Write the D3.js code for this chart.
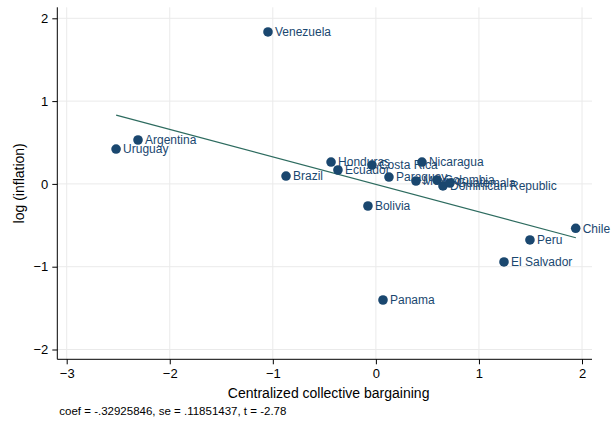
<!DOCTYPE html>
<html><head><meta charset="utf-8">
<script src="https://cdn.jsdelivr.net/npm/d3@7/dist/d3.min.js"></script>
<style>body{margin:0;background:#fff}svg{display:block}text{font-family:"Liberation Sans",Arial,sans-serif}</style>
</head><body><svg id="c" width="612" height="421"></svg>
<script>
const countries = ["Venezuela","Argentina","Uruguay","Brazil","Honduras","Ecuador","Costa Rica","Paraguay","Nicaragua","Mexico","Colombia","Dominican Republic","Guatemala","Bolivia","Chile","Peru","El Salvador","Panama"];
const bargaining = [-1.047,-2.308,-2.521,-0.872,-0.435,-0.368,-0.038,0.127,0.447,0.389,0.593,0.651,0.719,-0.077,1.939,1.495,1.243,0.069];
const inflation = [1.835,0.530,0.421,0.095,0.264,0.168,0.228,0.083,0.264,0.035,0.047,-0.025,0.011,-0.267,-0.536,-0.677,-0.943,-1.402];
const fitX = [-2.52, 1.94];
const fitY = [0.83, -0.65];
const xTicks = [-3,-2,-1,0,1,2];
const yTicks = [-2,-1,0,1,2];
const noteText = "coef = -.32925846, se = .11851437, t = -2.78";

const svg = d3.select("#c");
const L = 57.3, R = 592, T = 7.3, B = 359.3;
const x = d3.scaleLinear().domain([-3,2]).range([66.7,582]);
const y = d3.scaleLinear().domain([-2,2]).range([349.5,18.3]);

// gridlines
svg.append("g").selectAll("line").data(xTicks).join("line")
  .attr("x1",d=>x(d)).attr("x2",d=>x(d)).attr("y1",T).attr("y2",B)
  .attr("stroke","#eaeaea").attr("stroke-width",1);
svg.append("g").selectAll("line").data(yTicks).join("line")
  .attr("y1",d=>y(d)).attr("y2",d=>y(d)).attr("x1",L).attr("x2",R)
  .attr("stroke","#eaeaea").attr("stroke-width",1);

// axes
const xa = svg.append("g").attr("transform",`translate(0,${B})`)
  .call(d3.axisBottom(x).tickValues(xTicks).tickSize(5).tickPadding(4).tickFormat(d3.format("d")));
xa.select(".domain").attr("d",`M${L},0H${R}`).attr("stroke","#000");
const ya = svg.append("g").attr("transform",`translate(${L},0)`)
  .call(d3.axisLeft(y).tickValues(yTicks).tickSize(5).tickPadding(4).tickFormat(d3.format("d")));
ya.select(".domain").attr("d",`M0,${T}V${B}`).attr("stroke","#000");
svg.selectAll(".tick text").attr("font-size",13).attr("fill","#000").style("font-family","'Liberation Sans',Arial,sans-serif");
svg.selectAll(".tick line").attr("stroke","#000");

// fit line
svg.append("line").attr("x1",x(fitX[0])).attr("y1",y(fitY[0])).attr("x2",x(fitX[1])).attr("y2",y(fitY[1]))
  .attr("stroke","#2d6b5f").attr("stroke-width",1.2);

// points
const data = countries.map((c,i)=>({c, x:bargaining[i], y:inflation[i]}));
svg.append("g").selectAll("circle").data(data).join("circle")
  .attr("cx",d=>x(d.x)).attr("cy",d=>y(d.y)).attr("r",4.8).attr("fill","#1a476f");
svg.append("g").selectAll("text").data(data).join("text")
  .attr("x",d=>x(d.x)+7).attr("y",d=>y(d.y)).attr("dy","0.36em")
  .attr("font-size",12).attr("fill","#1a476f").text(d=>d.c);

// titles
svg.append("text").attr("x",(L+R)/2+4).attr("y",398).attr("text-anchor","middle").attr("font-size",14).text("Centralized collective bargaining");
svg.append("text").attr("transform",`translate(24,${(T+B)/2}) rotate(-90)`).attr("text-anchor","middle").attr("font-size",14).text("log (inflation)");
svg.append("text").attr("x",L+2).attr("y",415).attr("font-size",11.5).text(noteText);
</script></body></html>
